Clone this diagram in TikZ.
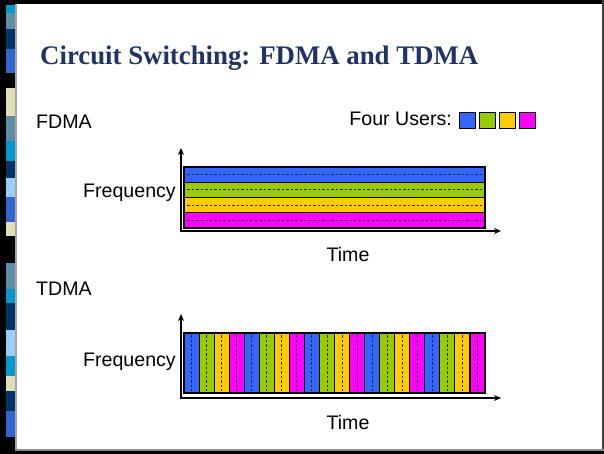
\documentclass[tikz,border=0pt]{standalone}
\usepackage{fontspec}
\setmainfont{Liberation Sans}
\newfontfamily\titlefont{Liberation Serif}
\usetikzlibrary{arrows.meta}

% user colours
\definecolor{userblue}{RGB}{51,102,255}
\definecolor{usergreen}{RGB}{153,204,0}
\definecolor{useryellow}{RGB}{255,204,0}
\definecolor{usermagenta}{RGB}{255,0,255}
\definecolor{titlenavy}{RGB}{31,51,102}
% side bar colours
\definecolor{barcyan}{RGB}{0,153,204}
\definecolor{barsteel}{RGB}{90,143,168}
\definecolor{barnavy}{RGB}{0,51,102}
\definecolor{barroyal}{RGB}{51,102,204}
\definecolor{barbeige}{RGB}{224,224,184}
\definecolor{barlight}{RGB}{153,204,255}

\tikzset{
  txt/.style={font=\fontsize{19.6}{22}\selectfont, inner sep=0pt},
  titletxt/.style={font=\titlefont\bfseries\fontsize{26.8}{30}\selectfont, text=titlenavy, inner sep=0pt},
  axis/.style={line width=1.6pt, {Stealth[length=7pt,width=6pt]}-{Stealth[length=7pt,width=6pt]}},
  slot/.style={draw=black, line width=1.1pt},
  midline/.style={draw=black!85, line width=0.9pt, dash pattern=on 2.5pt off 2pt},
  swatch/.style={draw=black, line width=1pt},
}

\begin{document}
\begin{tikzpicture}[x=1pt,y=-1pt]
\useasboundingbox (0,0) rectangle (604,454);
\fill[white] (0,0) rectangle (604,454);

% frame and side bar
\fill[black] (0,0) rectangle (15,454);
\foreach \ya/\yb/\c in {5/13/barcyan, 13/29/barsteel, 29/49/barnavy, 49/73/barroyal,
    73/88/black, 88/116/barbeige, 116/141/barsteel, 141/161/barcyan, 161/178/barnavy,
    178/197/barlight, 197/222/barroyal, 222/236/barbeige, 236/263/black, 263/289/barsteel,
    289/303/barcyan, 303/330/barnavy, 330/356/barlight, 356/376/barcyan, 376/391/barbeige,
    391/411/barnavy, 411/437/barroyal, 437/454/black}
  \fill[\c] (6,\ya) rectangle (15,\yb);
\fill[black!35] (15,4) rectangle (17,450);
\fill[black] (0,0) rectangle (604,4);
\fill[black!75] (602,0) rectangle (604,454);
\fill[black!45] (15,449) rectangle (604,451);
\fill[black] (0,451) rectangle (604,454);

% title
\node[titletxt, anchor=base west] (title) at (40,65) {Circuit Switching: FDMA and TDMA};

% legend
\node[txt, anchor=base west] (fdma) at (36,129) {FDMA};
\node[txt, anchor=base east] (users) at (452,126) {Four Users:};
\foreach \c [count=\i from 0] in {userblue,usergreen,useryellow,usermagenta}
  \filldraw[swatch, fill=\c] (459.5+20*\i,113) rectangle ++(15.5,15.5);

% FDMA: four frequency bands
\foreach \c [count=\i from 0] in {userblue,usergreen,useryellow,usermagenta} {
  \filldraw[slot, fill=\c] (184,167+15.25*\i) rectangle (485,167+15.25*\i+15.25);
  \draw[midline] (187,167+15.25*\i+7.6) -- (483,167+15.25*\i+7.6);
}
\coordinate (f-top) at (181,148);
\coordinate (f-origin) at (181,231);
\coordinate (f-right) at (501,231);
\draw[axis] (f-top) -- (f-origin) -- (f-right);
\node[txt, anchor=base east] (f-freq) at (176,198) {Frequency};
\node[txt, anchor=base] (f-time) at (348,261) {Time};

% TDMA: twenty time slots
\node[txt, anchor=base west] (tdma) at (36,295) {TDMA};
\foreach \k in {0,...,19} {
  \pgfmathsetmacro{\m}{int(mod(\k,4))}
  \ifcase\m \def\c{userblue}\or \def\c{usergreen}\or \def\c{useryellow}\else \def\c{usermagenta}\fi
  \filldraw[slot, fill=\c] (184+15.05*\k,333) rectangle (184+15.05*\k+15.05,393);
  \draw[midline] (184+15.05*\k+7.5,335) -- (184+15.05*\k+7.5,391);
}
\coordinate (t-top) at (181,314);
\coordinate (t-origin) at (181,398);
\coordinate (t-right) at (501,398);
\draw[axis] (t-top) -- (t-origin) -- (t-right);
\node[txt, anchor=base east] (t-freq) at (176,366) {Frequency};
\node[txt, anchor=base] (t-time) at (348,429) {Time};
\end{tikzpicture}
\end{document}
